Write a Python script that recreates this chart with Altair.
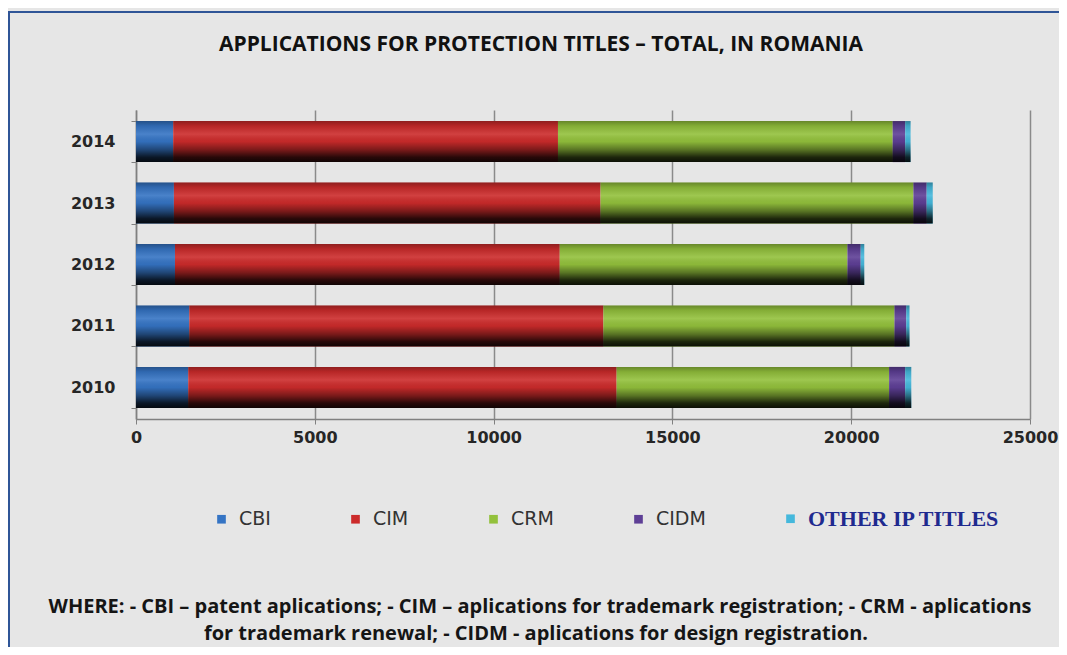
import altair as alt
import pandas as pd

# ---------------- data ----------------
years = ["2014", "2013", "2012", "2011", "2010"]
series = ["CBI", "CIM", "CRM", "CIDM", "OTHER IP TITLES"]
cbi = [1040, 1060, 1090, 1490, 1460]
cim = [10760, 11930, 10760, 11580, 11980]
crm = [9360, 8750, 8045, 8140, 7620]
cidm = [350, 370, 370, 330, 450]
other = [150, 170, 100, 90, 170]
x_ticks = [0, 5000, 10000, 15000, 20000, 25000]

colors = ["#3574c4", "#cc2b2b", "#93c13c", "#5e3f96", "#45b8dc"]
title_text = "APPLICATIONS FOR PROTECTION TITLES \u2013 TOTAL, IN ROMANIA"
footer_lines = [
    "WHERE: - CBI \u2013 patent aplications; - CIM \u2013 aplications for trademark registration; - CRM - aplications",
    "for trademark renewal; - CIDM - aplications for design registration.",
]

rows = []
for k, (name, vals) in enumerate(zip(series, [cbi, cim, crm, cidm, other])):
    for yr, v in zip(years, vals):
        rows.append({"year": yr, "series": name, "order": k, "value": v})
df = pd.DataFrame(rows)

W, H = 894, 309

x_scale = alt.Scale(domain=[0, 25000], nice=False)
y_scale = alt.Scale(paddingInner=0.332, paddingOuter=0.18)

x_axis = alt.Axis(
    values=x_ticks, format="d", title=None,
    labelFont="DejaVu Sans", labelFontSize=16, labelFontWeight="bold", labelColor="#262626",
    labelFlush=False, labelPadding=5,
    tickSize=5, tickColor="#808080", domainColor="#808080", domainWidth=1.5,
    grid=True, gridColor="#8a8a8a", gridWidth=1.5,
)
y_axis = alt.Axis(
    title=None, labelFont="DejaVu Sans", labelFontSize=16, labelFontWeight="bold", labelColor="#262626",
    tickBand="extent", tickSize=5, tickColor="#808080",
    domainColor="#808080", domainWidth=1.5, labelPadding=16, grid=False,
)

frame = alt.Chart(alt.Data(values=[{"f": 1}])).mark_rect(
    filled=False, stroke="#2f5597", strokeWidth=2
).encode(
    x=alt.value(-127), x2=alt.value(960), y=alt.value(-98), y2=alt.value(600)
)

is_other = "datum.value == 'OTHER IP TITLES'"

bars = alt.Chart(df).mark_bar().encode(
    x=alt.X("value:Q", stack="zero", scale=x_scale, axis=x_axis, title=None),
    y=alt.Y("year:N", sort=years, scale=y_scale, axis=y_axis, title=None),
    color=alt.Color(
        "series:N",
        scale=alt.Scale(domain=series, range=colors),
        legend=alt.Legend(
            orient="none", legendX=76, legendY=399, direction="horizontal",
            title=None, symbolType="square", symbolSize=75, symbolStrokeWidth=0,
            labelFontSize=alt.ExprRef(expr=f"{is_other} ? 22 : 19"),
            labelFont=alt.ExprRef(expr=f"{is_other} ? 'Liberation Serif' : 'DejaVu Sans'"),
            labelFontWeight=alt.ExprRef(expr=f"{is_other} ? 'bold' : 'normal'"),
            labelColor=alt.ExprRef(expr=f"{is_other} ? '#1f2a8f' : '#333333'"),
            labelLimit=400, labelOffset=8, columnPadding=75, padding=0,
        ),
    ),
    order=alt.Order("order:Q"),
)

shade = alt.LinearGradient(
    gradient="linear", x1=0, x2=0, y1=0, y2=1,
    stops=[
        alt.GradientStop(offset=0.0, color="rgba(0,0,0,0.30)"),
        alt.GradientStop(offset=0.12, color="rgba(0,0,0,0.10)"),
        alt.GradientStop(offset=0.32, color="rgba(255,255,255,0.10)"),
        alt.GradientStop(offset=0.50, color="rgba(0,0,0,0.05)"),
        alt.GradientStop(offset=0.70, color="rgba(0,0,0,0.40)"),
        alt.GradientStop(offset=0.88, color="rgba(0,0,0,0.80)"),
        alt.GradientStop(offset=1.0, color="rgba(0,0,0,0.92)"),
    ],
)

overlay = alt.Chart(df).mark_bar(color=shade).encode(
    x=alt.X("sum(value):Q", scale=x_scale, axis=x_axis, title=None),
    y=alt.Y("year:N", sort=years, scale=y_scale, axis=y_axis, title=None),
)

foot1 = alt.Chart(alt.Data(values=[{"t": footer_lines[0]}])).mark_text(
    font="Open Sans", fontSize=20, fontWeight="bold", color="#151515",
    align="center", baseline="alphabetic"
).encode(text="t:N", x=alt.value(404), y=alt.value(503))

foot2 = alt.Chart(alt.Data(values=[{"t": footer_lines[1]}])).mark_text(
    font="Open Sans", fontSize=20, fontWeight="bold", color="#151515",
    align="center", baseline="alphabetic"
).encode(text="t:N", x=alt.value(400), y=alt.value(530))

chart = alt.layer(frame, bars, overlay, foot1, foot2).properties(
    width=W,
    height=H,
    padding={"left": 128, "top": 102, "right": 29, "bottom": 228},
    autosize=alt.AutoSizeParams(type="none"),
    background="#e6e6e6",
    title=alt.Title(
        title_text, font="Open Sans", fontSize=21, fontWeight="bold", color="#111111",
        anchor="middle", frame="group", dx=-42, offset=-61, baseline="alphabetic",
    ),
).configure_view(strokeWidth=0)

chart.save("out.html", embed_options={"renderer": "svg", "actions": False})
